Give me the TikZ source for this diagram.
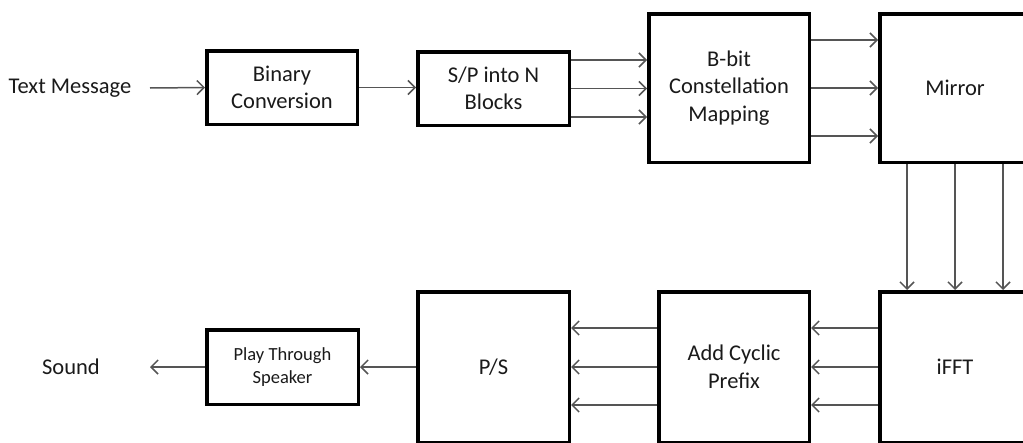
\documentclass[tikz,border=0pt]{standalone}
\usepackage{fontspec}
\setmainfont{Carlito}
\usetikzlibrary{arrows.meta}
\definecolor{arrgray}{HTML}{555555}
\definecolor{txt}{HTML}{1A1A1A}
\tikzset{
  blk/.style={draw=black, line width=3.5pt, fill=white, align=center, text=txt,
    font=\fontsize{22.5}{27.5}\selectfont, inner sep=0pt},
  lbl/.style={text=txt, font=\fontsize{22.5}{27.5}\selectfont, inner sep=0pt},
  arr/.style={draw=arrgray, line width=1.5pt, -{Straight Barb[length=7pt,width=14pt]}},
}
\begin{document}
\begin{tikzpicture}[x=1pt,y=-1pt]
\useasboundingbox (0,0) rectangle (1023,442);
\clip (0,0) rectangle (1023,442);
% top row
\node[lbl] (txtmsg) at (70,88) {Text Message};
\coordinate (tmend) at (150,88);
\node[blk, minimum width=150.5pt, minimum height=73.5pt] (bin) at (282,87.5) {Binary\\Conversion};
\node[blk, minimum width=151.5pt, minimum height=73.5pt] (sp) at (493.5,88.5) {S/P into N\\Blocks};
\node[blk, minimum width=160.5pt, minimum height=148.5pt] (bbit) at (729,88) {B-bit\\Constellation\\Mapping};
\node[blk, minimum width=150.5pt, minimum height=148.5pt] (mir) at (955,88) {Mirror};
% bottom row
\node[blk, minimum width=150.5pt, minimum height=150.5pt] (ifft) at (955,367) {iFFT};
\node[blk, minimum width=150.5pt, minimum height=150.5pt] (acp) at (734,367) {Add Cyclic\\Prefix};
\node[blk, minimum width=151.5pt, minimum height=150.5pt] (ps) at (493.5,367) {P/S};
\node[blk, minimum width=151.5pt, minimum height=74.5pt, font=\fontsize{18.5}{22.5}\selectfont] (play) at (282.5,367) {Play Through\\Speaker};
\node[lbl] (snd) at (71,367) {Sound};
\coordinate (sndend) at (150,367);
% connectors
\draw[arr] (tmend) -- (bin.west);
\draw[arr] (bin.east) -- (bin.east -| sp.west);
\foreach \s in {28.5,0,-28.5}{
  \draw[arr] ([yshift=\s pt]sp.east) -- ([yshift=\s pt]sp.east -| bbit.west);
}
\foreach \s in {48,0,-48}{
  \draw[arr] ([yshift=\s pt]bbit.east) -- ([yshift=\s pt]bbit.east -| mir.west);
  \draw[arr] ([xshift=\s pt]mir.south) -- ([xshift=\s pt]mir.south |- ifft.north);
}
\foreach \s in {39,0,-38}{
  \draw[arr] ([yshift=\s pt]ifft.west) -- ([yshift=\s pt]ifft.west -| acp.east);
  \draw[arr] ([yshift=\s pt]acp.west) -- ([yshift=\s pt]acp.west -| ps.east);
}
\draw[arr] (ps.west) -- (play.east);
\draw[arr] (play.west) -- (sndend);
\end{tikzpicture}
\end{document}
